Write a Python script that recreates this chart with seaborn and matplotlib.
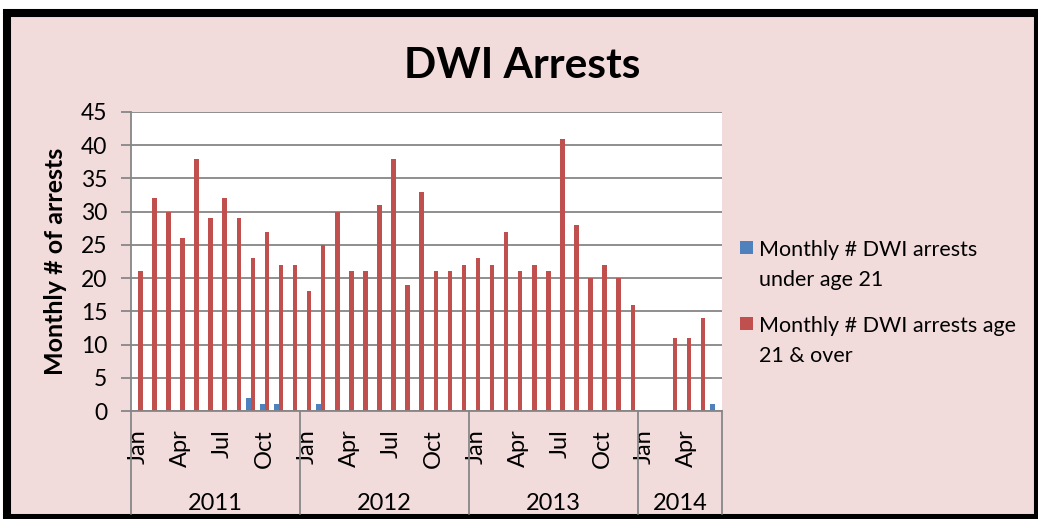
import numpy as np
import pandas as pd
import matplotlib
matplotlib.use("Agg")
import matplotlib.pyplot as plt
import matplotlib.patches as mpatches
import matplotlib.transforms as mtransforms
from matplotlib.legend_handler import HandlerPatch
import seaborn as sns

# ---------------- data ----------------
years = ["2011", "2012", "2013", "2014"]
months_per_year = [12, 12, 12, 6]
month_names = ["Jan", "Feb", "Mar", "Apr", "May", "Jun",
               "Jul", "Aug", "Sep", "Oct", "Nov", "Dec"]
labelled_months = ["Jan", "Apr", "Jul", "Oct"]

under_21 = [0, 0, 0, 0, 0, 0, 0, 0, 2, 1, 1, 0,
            0, 1, 0, 0, 0, 0, 0, 0, 0, 0, 0, 0,
            0, 0, 0, 0, 0, 0, 0, 0, 0, 0, 0, 0,
            0, 0, 0, 0, 0, 1]
age_21_over = [21, 32, 30, 26, 38, 29, 32, 29, 23, 27, 22, 22,
               18, 25, 30, 21, 21, 31, 38, 19, 33, 21, 21, 22,
               23, 22, 27, 21, 22, 21, 41, 28, 20, 22, 20, 16,
               0, 0, 11, 11, 14, 0]

series_names = ["Monthly # DWI arrests\nunder age 21",
                "Monthly # DWI arrests age\n21 & over"]
series_colors = ["#4F81BD", "#C0504D"]

title = "DWI Arrests"
y_label = "Monthly # of arrests"

# ---------------- table ----------------
period, period_month = [], []
for y, n in zip(years, months_per_year):
    for m in month_names[:n]:
        period.append(f"{m} {y}")
        period_month.append(m)
n_periods = len(period)

df = pd.DataFrame({
    "period": period * 2,
    "arrests": under_21 + age_21_over,
    "series": [series_names[0]] * n_periods + [series_names[1]] * n_periods,
})

# ---------------- style ----------------
sns.set_style("white")
plt.rcParams["font.family"] = ["Lato", "DejaVu Sans"]
plt.rcParams["text.color"] = "black"
plt.rcParams["axes.labelcolor"] = "black"
plt.rcParams["xtick.color"] = "black"
plt.rcParams["ytick.color"] = "black"

W, H = 1038, 519
fig = plt.figure(figsize=(W / 100, H / 100), dpi=100, facecolor="white")

# chart-area background with black frame
frame = mpatches.Rectangle((7 / W, 1 - 518 / H), (W - 7) / W, (518 - 12.5) / H,
                           transform=fig.transFigure, facecolor="#F2DCDB",
                           edgecolor="black", linewidth=5.8, zorder=-10)
fig.patches.append(frame)

ax = fig.add_axes([131 / W, 1 - 411 / H, 591 / W, 299 / H])
ax.set_zorder(1)
ax.set_facecolor("white")

sns.barplot(data=df, x="period", y="arrests", hue="series",
            order=period, hue_order=series_names, palette=series_colors,
            saturation=1, width=0.64, errorbar=None, linewidth=0, ax=ax)

handles, labels = ax.get_legend_handles_labels()
if ax.get_legend() is not None:
    ax.get_legend().remove()

grid_c = "#868686"
ax.set_xlim(-0.5, n_periods - 0.5)
ax.set_ylim(0, 45)
ax.set_yticks(np.arange(0, 46, 5))
ax.yaxis.grid(True, color=grid_c, linewidth=1.3)
ax.xaxis.grid(False)
ax.set_axisbelow(True)
for s in ["top", "right"]:
    ax.spines[s].set_visible(False)
for s in ["left", "bottom"]:
    ax.spines[s].set_color(grid_c)
    ax.spines[s].set_linewidth(1.3)

ax.tick_params(axis="y", length=7, width=1.3, color=grid_c,
               labelsize=16.5, pad=10, labelcolor="black", left=True)

tick_idx = [i for i, m in enumerate(period_month) if m in labelled_months]
ax.set_xticks(tick_idx)
ax.set_xticklabels([period_month[i] for i in tick_idx], rotation=90,
                   va="top", ha="center")
ax.tick_params(axis="x", length=0, labelsize=17, pad=13, labelcolor="black")
ax.set_xlabel("")

ax.set_ylabel(y_label, fontsize=18, fontweight="bold", color="black")
ax.yaxis.set_label_coords(-0.127, 0.50)
ax.yaxis.label.set_verticalalignment("center")

# multi-level category axis: year separators and year labels
trans = mtransforms.blended_transform_factory(ax.transData, ax.transAxes)
bounds = np.concatenate([[0], np.cumsum(months_per_year)]) - 0.5
for b in bounds:
    ax.plot([b, b], [0, -0.345], transform=trans, clip_on=False,
            color=grid_c, linewidth=1.3)
for y, lo, hi in zip(years, bounds[:-1], bounds[1:]):
    ax.text((lo + hi) / 2, -0.31, y, transform=trans, ha="center",
            va="center", fontsize=17, color="black")

fig.text(522 / W, 1 - 66 / H, title, ha="center", va="center",
         fontsize=30.5, fontweight="bold", color="black")


class FirstLineHandler(HandlerPatch):
    def __init__(self, size, shift, **kw):
        super().__init__(**kw)
        self.size = size
        self.shift = shift

    def create_artists(self, legend, orig_handle, xdescent, ydescent,
                       width, height, fontsize, trans):
        p = mpatches.Rectangle((-xdescent, self.shift), self.size, self.size,
                               facecolor=orig_handle.get_facecolor(),
                               edgecolor="none", transform=trans)
        return [p]


leg_fs = 15.5
handler = FirstLineHandler(size=9.4, shift=13.6)
leg = fig.legend(handles, labels, loc="upper left",
                 bbox_to_anchor=(740 / W, 1 - 240 / H),
                 frameon=False, fontsize=leg_fs, borderpad=0,
                 borderaxespad=0, handlelength=0.6, handletextpad=0.27,
                 labelspacing=1.23,
                 handler_map={h: handler for h in handles})
for t in leg.get_texts():
    t.set_linespacing(1.62)
    t.set_color("black")

fig.savefig("out.png", dpi=100, facecolor=fig.get_facecolor())
